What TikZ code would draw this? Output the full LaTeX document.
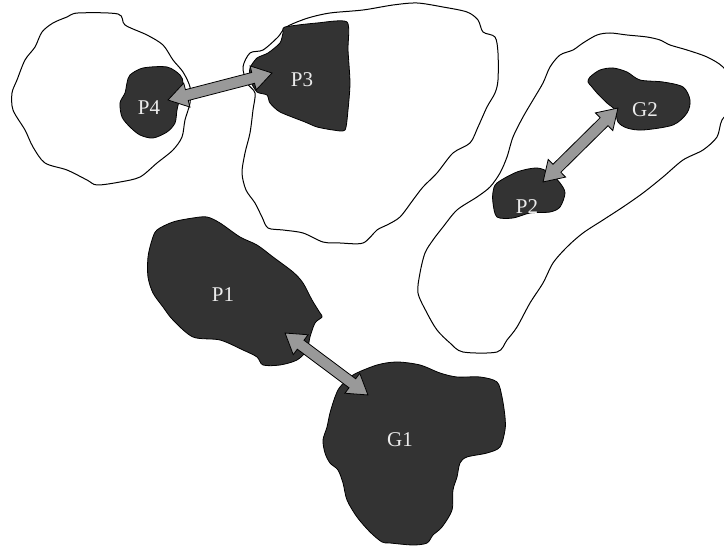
\documentclass[tikz,border=0pt]{standalone}
\usepackage{fontspec}
\setmainfont{Liberation Serif}
\usetikzlibrary{
    calc,
    shapes.arrows
}
\tikzset{
    % Colors
    blob color/.style={fill=black!80},
    link color/.style={fill=black!40},
    %
    % Outlines
    region/.style={draw=black,line width=0.5pt,fill=white},
    blob/.style={draw=black,line width=0.4pt,blob color},
    %
    % Labels
    blob label/.style={text=white!92!black,font=\fontsize{10.5}{12}\selectfont,inner sep=0pt},
    %
    % Arrows
    link arrow/.style={double arrow,draw=black,line width=0.4pt,link color,
        inner sep=0pt,inner ysep=2.6pt,double arrow head extend=3.4pt,
        double arrow tip angle=65}
}
\newcommand{\linkarrow}[2]{%
    \path let \p1=($(#2)-(#1)$), \n1={atan2(\y1,\x1)}, \n2={veclen(\x1,\y1)} in
        node[link arrow,minimum height=\n2,rotate=\n1] at ($(#1)!0.5!(#2)$) {};}

\begin{document}
\begin{tikzpicture}[x=0.5pt,y=-0.5pt]
    \clip (0,0) rectangle (724,550);

    % regions
    \draw[region] plot[smooth cycle,tension=0.5] coordinates {(78,13) (118,14) (125,25) (147,35) (163,45) (173,60) (183,72) (190,87) (190,103) (185,120) (182,137) (173,150) (157,163) (140,177) (120,182) (97,185) (87,180) (67,170) (45,163) (33,147) (25,130) (13,110) (12,93) (17,80) (25,60) (35,47) (42,32) (53,23) (67,17)};
    \draw[region] plot[smooth cycle,tension=0.5] coordinates {(283,30) (290,25) (308,18) (330,13) (363,10) (393,5) (417,3) (443,7) (467,12) (478,20) (483,32) (495,37) (498,53) (498,80) (495,93) (487,107) (478,127) (470,143) (453,153) (437,173) (423,187) (413,200) (400,217) (387,225) (377,230) (363,243) (340,243) (323,242) (303,233) (283,230) (268,228) (262,217) (255,203) (246,190) (242,173) (245,153) (250,133) (253,110) (255,93) (247,83) (243,67) (250,53) (263,50) (278,37)};
    \draw[region] plot[smooth cycle,tension=0.5] coordinates {(597,35) (610,33) (627,35) (647,37) (660,40) (670,45) (687,50) (707,57) (723,67) (735,85) (735,105) (722,120) (717,137) (703,150) (683,160) (663,177) (643,193) (623,207) (603,220) (583,233) (567,247) (553,263) (543,283) (530,303) (517,327) (507,340) (497,352) (463,352) (450,343) (437,330) (427,313) (418,293) (420,273) (425,253) (433,240) (443,227) (457,210) (477,197) (490,187) (500,173) (507,157) (513,137) (523,117) (533,100) (543,83) (550,67) (560,55) (573,50) (583,43)};

    % blobs
    \draw[blob] plot[smooth cycle,tension=0.5] coordinates {(130,75) (143,68) (167,67) (180,75) (183,83) (180,97) (177,110) (175,123) (167,132) (153,138) (140,135) (130,127) (122,117) (120,103) (125,93) (127,83)};
    \draw[blob] plot[smooth cycle,tension=0.4] coordinates {(285,27) (317,23) (347,22) (348,50) (350,83) (348,110) (345,130) (333,130) (317,127) (305,122) (280,112) (270,103) (267,95) (257,92) (250,80) (250,68) (257,58) (268,53) (280,43) (283,33)};
    \draw[blob] plot[smooth cycle,tension=0.5] coordinates {(497,183) (517,172) (537,168) (550,173) (560,183) (565,193) (560,207) (550,212) (530,213) (513,218) (497,217) (493,203) (493,192)};
    \draw[blob] plot[smooth cycle,tension=0.5] coordinates {(590,77) (600,70) (613,68) (627,72) (640,80) (663,82) (683,87) (690,100) (687,113) (673,125) (643,130) (627,128) (618,122) (615,110) (607,103) (597,93) (592,87) (588,82)};
    \draw[blob] plot[smooth cycle,tension=0.5] coordinates {(157,230) (173,222) (193,218) (207,217) (220,223) (240,237) (257,245) (273,257) (293,272) (303,283) (312,300) (320,313) (322,317) (315,323) (310,337) (307,350) (297,360) (280,365) (263,365) (257,357) (243,350) (220,340) (193,337) (173,320) (163,307) (153,293) (148,277) (148,257) (152,240)};
    \draw[blob] plot[smooth cycle,tension=0.5] coordinates {(340,387) (353,375) (377,365) (397,362) (420,365) (440,373) (457,377) (480,377) (497,382) (502,397) (505,417) (505,430) (500,447) (487,453) (467,457) (460,463) (457,477) (453,490) (452,510) (442,527) (433,535) (427,543) (413,545) (390,543) (382,542) (370,532) (357,517) (347,500) (343,483) (338,470) (330,463) (325,453) (323,440) (327,427) (330,413) (335,397)};

    % labels
    \node[blob label] (p4) at (149,108) {P4};
    \node[blob label] (p3) at (302,80) {P3};
    \node[blob label] (p2) at (527,207) {P2};
    \node[blob label] (g2) at (645,110) {G2};
    \node[blob label] (p1) at (223,295) {P1};
    \node[blob label] (g1) at (400,440) {G1};

    % arrows
    \coordinate (p4 end) at (168,100);
    \coordinate (p3 end) at (272,73);
    \coordinate (p2 end) at (543,182);
    \coordinate (g2 end) at (618,108);
    \coordinate (p1 end) at (285,333);
    \coordinate (g1 end) at (368,395);
    \linkarrow{p4 end}{p3 end}
    \linkarrow{p2 end}{g2 end}
    \linkarrow{p1 end}{g1 end}
\end{tikzpicture}
\end{document}
